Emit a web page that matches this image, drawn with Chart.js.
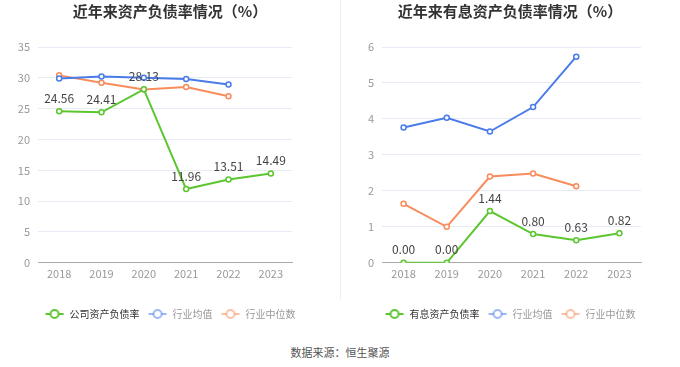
<!DOCTYPE html>
<html><head><meta charset="utf-8">
<script src="https://cdn.jsdelivr.net/npm/chart.js@4/dist/chart.umd.min.js"></script>
<style>
html,body{margin:0;padding:0;background:#fff;}
#wrap{position:relative;width:680px;height:367px;background:#fff;overflow:hidden;}
.cv{position:absolute;top:0;}
#divider{position:absolute;left:340px;top:0;width:1px;height:300px;background:#eeeeee;}
#src{position:absolute;left:0;width:680px;top:344px;text-align:center;font:11px 'Noto Sans CJK SC',sans-serif;color:#555;}
</style></head>
<body><div id="wrap">
<div class="cv" style="left:0;width:340px;height:335px;"><canvas id="c1"></canvas></div>
<div class="cv" style="left:340px;width:340px;height:335px;"><canvas id="c2"></canvas></div>
<div id="divider"></div>
<div id="src">数据来源：恒生聚源</div>
</div>
<script>
const years = ['2018','2019','2020','2021','2022','2023'];
// Left chart: 资产负债率
const companyDebt = [24.56, 24.41, 28.13, 11.96, 13.51, 14.49];
const industryAvg1 = [29.9, 30.2, 30.0, 29.8, 28.9, null];
const industryMed1 = [30.4, 29.2, 28.1, 28.5, 27.0, null];
// Right chart: 有息资产负债率
const interestDebt = [0.00, 0.00, 1.44, 0.80, 0.63, 0.82];
const industryAvg2 = [3.76, 4.03, 3.65, 4.33, 5.73, null];
const industryMed2 = [1.64, 1.00, 2.40, 2.48, 2.13, null];

const GREEN = '#5cc630', BLUE = '#4a7bea', ORANGE = '#f88c5c';
Chart.defaults.font.family = "'Noto Sans CJK SC','Noto Sans',sans-serif";

function icon(color){
  const c = document.createElement('canvas'); c.width = 20; c.height = 12;
  const g = c.getContext('2d');
  g.strokeStyle = color; g.lineWidth = 2;
  g.beginPath(); g.moveTo(1,6); g.lineTo(19,6); g.stroke();
  g.beginPath(); g.arc(10,6,4,0,Math.PI*2); g.fillStyle='#fff'; g.fill(); g.stroke();
  return c;
}

const labelPlugin = {
  id:'valLabels',
  afterDatasetsDraw(chart){
    const ctx = chart.ctx; const meta = chart.getDatasetMeta(0);
    ctx.save(); ctx.font = "12px 'Noto Sans CJK SC','Noto Sans',sans-serif";
    ctx.fillStyle = '#444'; ctx.textAlign='center'; ctx.textBaseline='middle';
    meta.data.forEach((p,i)=>{
      const v = chart.data.datasets[0].data[i];
      if (v==null) return;
      ctx.fillText(v.toFixed(2), p.x, p.y-13);
    });
    ctx.restore();
  }
};

function ds(label, data, color){
  return {label, data, borderColor:color, backgroundColor:'#fff', borderWidth:2,
    pointRadius:2.5, pointBorderWidth:1.5, pointBackgroundColor:'#fff', pointBorderColor:color,
    tension:0, spanGaps:false};
}

function make(id, title, mainLabel, main, avg, med, max, step, padL, padR){
  const lightColors = [GREEN, 'rgba(74,123,234,0.55)', 'rgba(248,140,92,0.55)'];
  return new Chart(document.getElementById(id), {
    type:'line',
    data:{labels:years, datasets:[ds(mainLabel, main, GREEN), ds('行业均值', avg, BLUE), ds('行业中位数', med, ORANGE)]},
    plugins:[labelPlugin],
    options:{
      responsive:true, maintainAspectRatio:false, animation:false,
      layout:{padding:{left:0,right:0,top:0,bottom:6}},
      plugins:{
        title:{display:true, text:title, color:'#333', font:{size:15, weight:'bold'}, padding:{top:2,bottom:27}},
        legend:{position:'bottom', labels:{usePointStyle:true, pointStyleWidth:20, boxHeight:12, padding:8, font:{size:10}, color:'#999',
          generateLabels(chart){
            return chart.data.datasets.map((d,i)=>({text:d.label, pointStyle:icon(lightColors[i]), fontColor: i===0?'#333':'#999',
              strokeStyle:'transparent', fillStyle:'transparent', lineWidth:0, hidden:false, datasetIndex:i}));
          }}},
        tooltip:{enabled:false}
      },
      scales:{
        x:{offset:true, grid:{display:false, drawTicks:false}, border:{color:'#aaa'},
           ticks:{color:'#999', font:{size:11}, padding:4},
           afterFit(s){ s.height += 17; }},
        y:{min:0, max:max, ticks:{stepSize:step, color:'#999', font:{size:11}, padding:8},
           grid:{color:'#e6ebf5', drawTicks:false}, border:{display:false},
           afterFit(s){ s.width = padL; }},
        yr:{position:'right', display:true, min:0, max:max, grid:{display:false, drawTicks:false}, border:{display:false},
           ticks:{display:false}, afterFit(s){ s.width = padR; }}
      }
    }
  });
}
make('c1','近年来资产负债率情况（%）','公司资产负债率', companyDebt, industryAvg1, industryMed1, 35, 5, 38, 48);
make('c2','近年来有息资产负债率情况（%）','有息资产负债率', interestDebt, industryAvg2, industryMed2, 6, 1, 42, 39);
</script>
</body></html>
